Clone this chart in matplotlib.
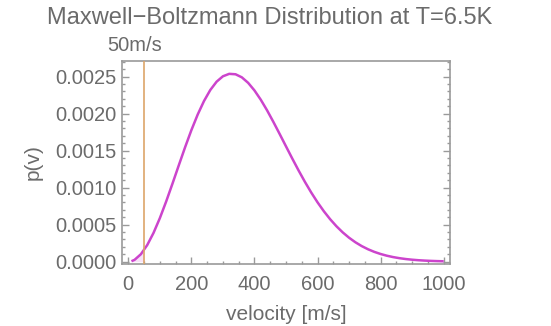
import matplotlib
matplotlib.use("Agg")
import matplotlib.pyplot as plt
from matplotlib.ticker import MultipleLocator, FixedFormatter, FixedLocator

plt.rcParams['font.family'] = ['Liberation Sans', 'DejaVu Sans']

# speed samples [m/s] and probability density p(v)
velocity = [10, 20, 40, 60, 80, 100, 120, 140, 160, 180, 200, 220, 240, 260, 280,
            300, 320, 340, 360, 380, 400, 420, 440, 460, 480, 500, 520, 540, 560,
            580, 600, 620, 640, 660, 680, 700, 720, 740, 760, 780, 800, 820, 840,
            860, 880, 900, 920, 940, 960, 980, 1000]
density = [6.45e-6, 2.572e-5, 1.0173e-4, 2.2466e-4, 3.8907e-4, 5.8780e-4, 8.1231e-4,
           1.05316e-3, 1.30047e-3, 1.54455e-3, 1.77606e-3, 1.98666e-3, 2.16938e-3,
           2.31854e-3, 2.43067e-3, 2.50349e-3, 2.53644e-3, 2.53079e-3, 2.48932e-3,
           2.41496e-3, 2.31247e-3, 2.18721e-3, 2.04388e-3, 1.88727e-3, 1.72364e-3,
           1.55740e-3, 1.39198e-3, 1.23123e-3, 1.07780e-3, 9.3405e-4, 8.0161e-4,
           6.8128e-4, 5.7341e-4, 4.7823e-4, 3.9514e-4, 3.2353e-4, 2.6242e-4,
           2.1093e-4, 1.6806e-4, 1.3272e-4, 1.0389e-4, 8.059e-5, 6.198e-5, 4.730e-5,
           3.574e-5, 2.681e-5, 1.994e-5, 1.471e-5, 1.077e-5, 7.81e-6, 5.61e-6]

cutoff_speed = 50
cutoff_label = "50m/s"
cutoff_density = 1.52e-4

x_ticks = [0, 200, 400, 600, 800, 1000]
x_tick_labels = ["0", "200", "400", "600", "800", "1000"]
y_ticks = [0.0, 0.0005, 0.0010, 0.0015, 0.0020, 0.0025]
y_tick_labels = ["0.0000", "0.0005", "0.0010", "0.0015", "0.0020", "0.0025"]

text_gray = "#6b6b6b"
frame_gray = "#9a9a9a"
curve_color = "#cc44cc"
line_color = "#dda56a"

fig = plt.figure(figsize=(5.51, 3.26), dpi=100)
ax = fig.add_axes([0.2214, 0.1902, 0.5953, 0.6227])

ax.plot(velocity, density, color=curve_color, lw=1.8, solid_capstyle="butt", zorder=3)

# shade the slow tail below the cutoff speed
slow_v = [v for v in velocity if v <= cutoff_speed] + [cutoff_speed]
slow_p = [p for v, p in zip(velocity, density) if v <= cutoff_speed] + [cutoff_density]
ax.fill_between(slow_v, 0, slow_p, color=curve_color, alpha=0.15, lw=0, zorder=2)

ax.axvline(cutoff_speed, color=line_color, lw=1.2, zorder=4)
ax.annotate(cutoff_label, xy=(cutoff_speed, 1.0), xycoords=("data", "axes fraction"),
            xytext=(-7, 4), textcoords="offset points", ha="center", va="bottom",
            fontsize=14.5, color=text_gray)

ax.set_xlim(-20, 1020)
ax.set_ylim(-0.000031, 0.00271)

ax.xaxis.set_major_locator(FixedLocator(x_ticks))
ax.xaxis.set_major_formatter(FixedFormatter(x_tick_labels))
ax.xaxis.set_minor_locator(MultipleLocator(50))
ax.yaxis.set_major_locator(FixedLocator(y_ticks))
ax.yaxis.set_major_formatter(FixedFormatter(y_tick_labels))
ax.yaxis.set_minor_locator(MultipleLocator(0.0001))

ax.tick_params(which="both", direction="in", colors=frame_gray, labelcolor=text_gray,
               labelsize=14.5, right=True, top=False, width=1.0)
ax.tick_params(which="major", length=5, pad=4)
ax.tick_params(which="minor", length=2.5)
ax.tick_params(axis="x", which="major", pad=8)

for s in ax.spines.values():
    s.set_color(frame_gray)
    s.set_linewidth(1.2)

ax.set_xlabel("velocity [m/s]", fontsize=15, color=text_gray, labelpad=8)
ax.set_ylabel("p(v)", fontsize=15, color=text_gray, labelpad=9)

fig.text(0.49, 0.945, "Maxwell\u2212Boltzmann Distribution at T=6.5K", ha="center",
         va="center", fontsize=17, color=text_gray)

fig.savefig("out.png", dpi=100)
